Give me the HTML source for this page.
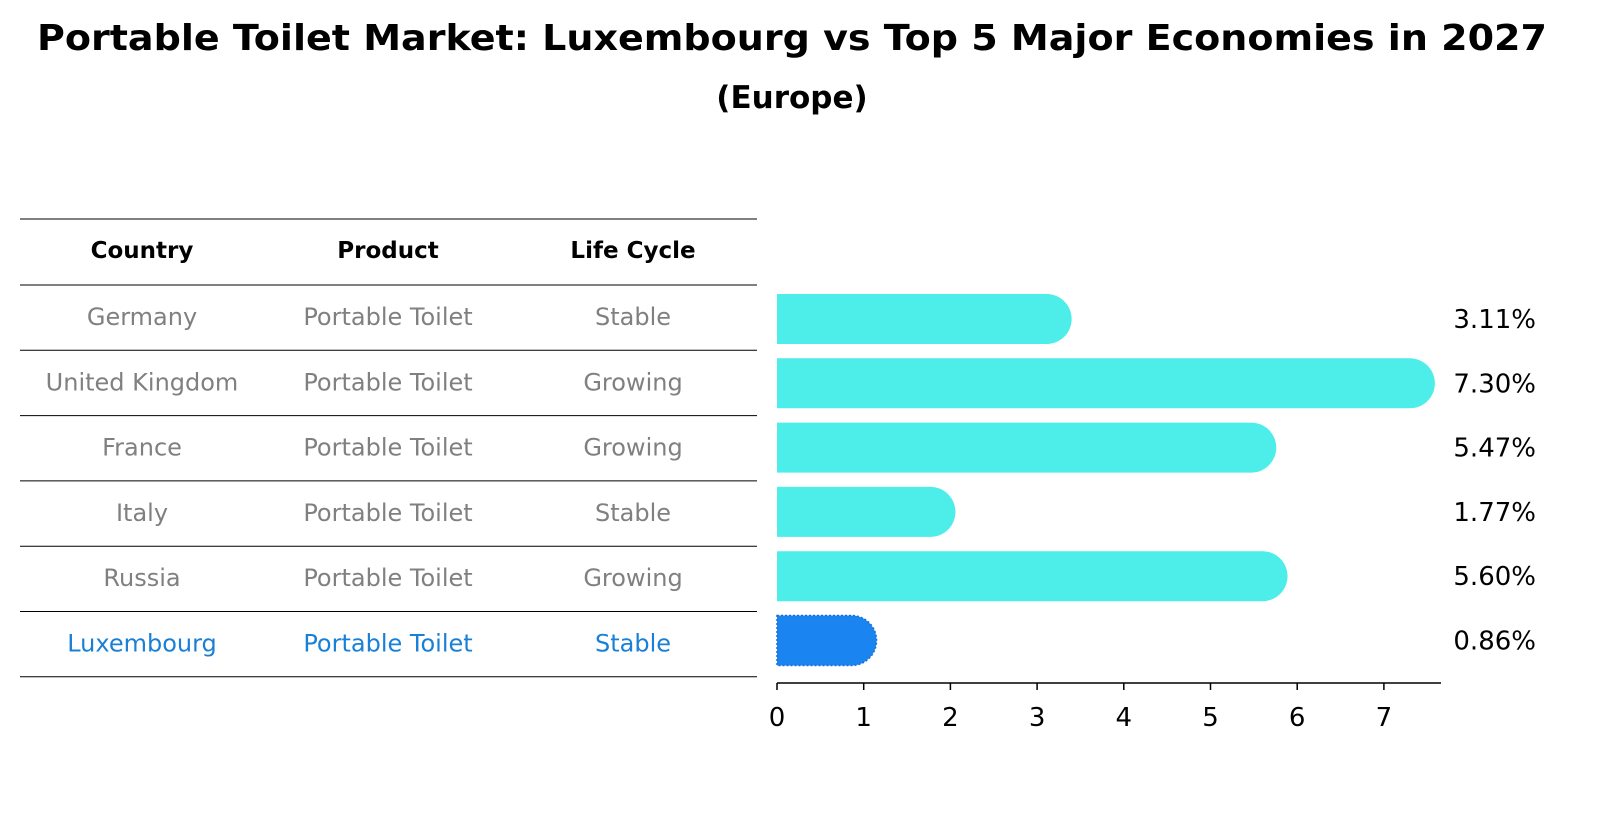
<!DOCTYPE html>
<html><head><meta charset="utf-8"><style>
body{margin:0;background:#fff;font-family:"Liberation Sans","DejaVu Sans",sans-serif;}
svg text{font-family:"DejaVu Sans","Liberation Sans",sans-serif;}
</style></head><body>
<svg id="c" width="1598" height="823" viewBox="0 0 1598 823" xmlns="http://www.w3.org/2000/svg">
<text x="792" y="50" text-anchor="middle" font-size="36" font-weight="bold" textLength="1510" lengthAdjust="spacingAndGlyphs">Portable Toilet Market: Luxembourg vs Top 5 Major Economies in 2027</text>
<text x="792" y="108" text-anchor="middle" font-size="31" font-weight="bold">(Europe)</text>
<g id="tbl"></g>
<g id="bars"></g>
</svg>
<script>
const countries=["Germany","United Kingdom","France","Italy","Russia","Luxembourg"];
const products=["Portable Toilet","Portable Toilet","Portable Toilet","Portable Toilet","Portable Toilet","Portable Toilet"];
const lifecycle=["Stable","Growing","Growing","Stable","Growing","Stable"];
const values=[3.11,7.30,5.47,1.77,5.60,0.86];
const ticks=[0,1,2,3,4,5,6,7];
const NS="http://www.w3.org/2000/svg";
function mk(t,a,p,txt){const e=document.createElementNS(NS,t);for(const k in a)e.setAttribute(k,a[k]);if(txt!==undefined)e.textContent=txt;p.appendChild(e);return e;}
const tbl=document.getElementById('tbl'),bars=document.getElementById('bars');
const rowY=i=>285+i*65.3;
const colX=[142,388,633];
for(let i=0;i<=7;i++){const y=i==0?219:rowY(i-1);const l=mk('line',{x1:20,x2:757,y1:y,y2:y,stroke:'#000','stroke-width':1},tbl);

}
["Country","Product","Life Cycle"].forEach((h,j)=>{const t=mk('text',{x:colX[j],y:258,'text-anchor':'middle','font-size':23,'font-weight':'bold'},tbl,h);

});
countries.forEach((c,i)=>{const col=i==5?'#1a7fd6':'#808080';[c,products[i],lifecycle[i]].forEach((v,j)=>{
const t=mk('text',{x:colX[j],y:rowY(i)+40,'text-anchor':'middle','font-size':24,fill:col},tbl,v);

});});
const x0=777,sc=86.7,xs=v=>x0+v*sc;
const bh=50,by=i=>294+i*64.3;
values.forEach((v,i)=>{const y=by(i),xe=xs(v),r=bh/2;
const p=mk('path',{d:`M${x0},${y} H${xe} A${r},${r} 0 0 1 ${xe},${y+bh} H${x0} Z`,fill:i==5?'#1a85f0':'#4dede9',stroke:i==5?'#1a6fd0':'none','stroke-dasharray':i==5?'2 2':'none','stroke-width':1.5},bars);


const t=mk('text',{x:1536,y:y+bh/2+9,'text-anchor':'end','font-size':26},bars,v.toFixed(2)+'%');

});
const ax=mk('line',{x1:x0,x2:1441,y1:683,y2:683,stroke:'#000','stroke-width':1.5},bars);


ticks.forEach(t=>{const l=mk('line',{x1:xs(t),x2:xs(t),y1:683,y2:690,stroke:'#000','stroke-width':1.5},bars);


const tx=mk('text',{x:xs(t),y:726,'text-anchor':'middle','font-size':26},bars,t);

});
</script>
</body></html>
